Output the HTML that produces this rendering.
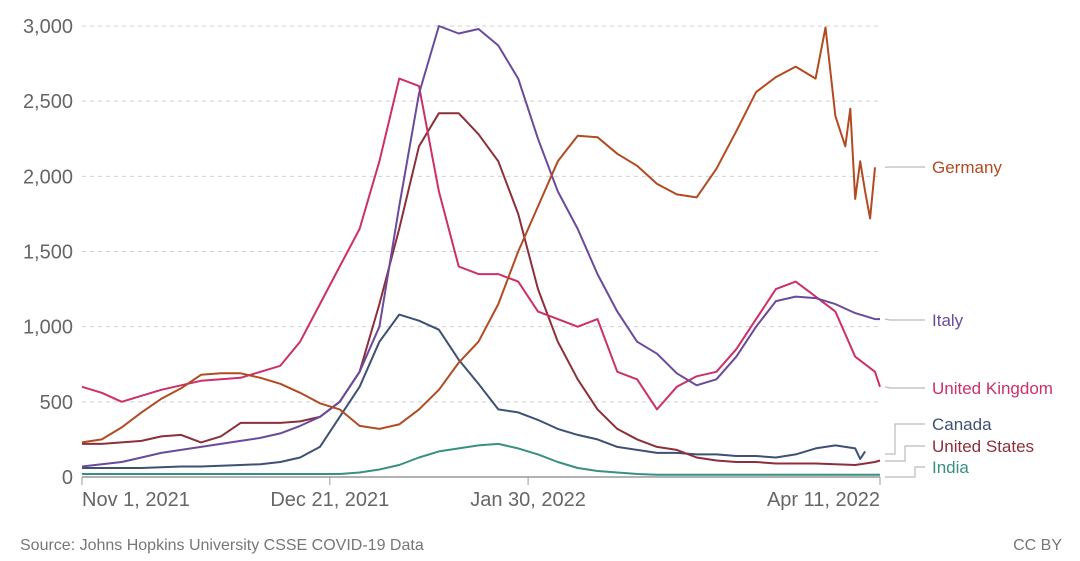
<!DOCTYPE html>
<html><head><meta charset="utf-8"><style>
body{margin:0;background:#fff;}
svg{display:block;font-family:"Liberation Sans",sans-serif;}
</style></head><body>
<svg id="chart" width="1080" height="561"></svg>
<script>
const step4 = Array.from({length:41},(_, i)=>i*4).concat([161]);
const yTicks = [0,500,1000,1500,2000,2500,3000];
const yTickLabels = ["0","500","1,000","1,500","2,000","2,500","3,000"];
const xTickDays = [0,50,90,161];
const xTickLabels = ["Nov 1, 2021","Dec 21, 2021","Jan 30, 2022","Apr 11, 2022"];
const germanyDays = Array.from({length:37},(_, i)=>i*4).concat([148,150,152,154,155,156,157,158,159,160,161]);
const germany = [230,250,330,430,520,590,680,690,690,660,620,560,490,450,340,320,350,450,580,760,900,1150,1500,1800,2100,2270,2260,2150,2070,1950,1880,1860,2050,2300,2560,2660,2730,2650,2990,2400,2200,2450,1850,2100,1900,1720,2060];
const italy = [70,85,100,130,160,180,200,220,240,260,290,340,400,500,700,1000,1800,2550,3000,2950,2980,2870,2650,2250,1900,1650,1350,1100,900,820,690,610,650,800,1000,1170,1200,1190,1150,1090,1050,1050];
const uk = [600,560,500,540,580,610,640,650,660,700,740,900,1150,1400,1650,2100,2650,2600,1900,1400,1350,1350,1300,1100,1050,1000,1050,700,650,450,600,670,700,850,1050,1250,1300,1200,1100,800,700,600];
const us = [220,220,230,240,270,280,230,270,360,360,360,370,400,500,700,1150,1650,2200,2420,2420,2280,2100,1750,1250,900,650,450,320,250,200,180,130,110,100,100,90,90,90,85,80,100,110];
const canadaDays = Array.from({length:40},(_, i)=>i*4).concat([157,158]);
const canada = [60,60,60,60,65,70,70,75,80,85,100,130,200,400,600,900,1080,1040,980,780,620,450,430,380,320,280,250,200,180,160,160,150,150,140,140,130,150,190,210,190,120,170];
const india = [20,20,20,20,20,20,20,20,20,20,20,20,20,20,30,50,80,130,170,190,210,220,190,150,100,60,40,30,20,15,15,15,15,15,15,15,15,15,15,15,15,15];
const seriesNames = ["Germany","Italy","United Kingdom","Canada","United States","India"];

const NS="http://www.w3.org/2000/svg";
const svg=document.getElementById('chart');
const X0=82,X1=880,Y0=477,Y1=26;
const xs=d=>X0+(X1-X0)*d/161;
const ys=v=>Y0-(Y0-Y1)*v/3000;
function mk(tag,attrs,parent){const e=document.createElementNS(NS,tag);for(const k in attrs)e.setAttribute(k,attrs[k]);(parent||svg).appendChild(e);return e;}

yTicks.forEach((t,i)=>{
  if(t>0){const g=mk('line',{x1:X0,x2:X1,y1:ys(t),y2:ys(t),stroke:'#d0d0d0','stroke-dasharray':'4,4','stroke-width':1});
  
  }
  const tx=mk('text',{x:73,y:ys(t)+7,'text-anchor':'end','font-size':20,fill:'#666'});
  tx.textContent=yTickLabels[i];
  
  
});
const ax=mk('line',{x1:X0,x2:X1,y1:Y0,y2:Y0,stroke:'#999','stroke-width':1.5});


xTickDays.forEach((d,i)=>{
  const tk=mk('line',{x1:xs(d),x2:xs(d),y1:Y0,y2:Y0+8,stroke:'#999'});
  
  
  const last=i===xTickDays.length-1, first=i===0;
  const tx=mk('text',{x:xs(d)+(first?0:0),y:506,'text-anchor':last?'end':(first?'start':'middle'),'font-size':20,fill:'#666'});
  tx.textContent=xTickLabels[i];
  
  
});

function line(days,vals,color,name){
  const p=days.map((d,i)=>(i?'L':'M')+xs(d).toFixed(1)+','+ys(vals[i]).toFixed(1)).join('');
  const e=mk('path',{d:p,fill:'none',stroke:color,'stroke-width':2,'stroke-linejoin':'round'});
  
  
}
line(step4,india,'#3a8f84','india-line');
line(canadaDays,canada,'#3e5074','canada-line');
line(step4,us,'#8c2f3b','united-states-line');
line(step4,uk,'#cc2f69','united-kingdom-line');
line(step4,italy,'#6a4a9c','italy-line');
line(germanyDays,germany,'#b24a22','germany-line');

const labels=[
 ["Germany",167,ys(germany[germany.length-1]),'#b24a22',0],
 ["Italy",320,ys(italy[italy.length-1]),'#6a4a9c',0],
 ["United Kingdom",388,ys(uk[uk.length-1]),'#cc2f69',0],
 ["Canada",424,454,'#3e5074',895],
 ["United States",446,461,'#8c2f3b',905],
 ["India",467,477,'#3a8f84',915]
];
labels.forEach(([t,y,yEnd,c,ex])=>{
  let d;
  if(ex) d=`M885,${yEnd}H${ex}V${y}H925`;
  else d=`M885,${yEnd}L890,${y}H925`;
  const l=mk('path',{d:d,fill:'none',stroke:'#bbb','stroke-width':1.2});
  
  
  const tx=mk('text',{x:932,y:y+6,'font-size':17,fill:c});
  tx.textContent=t;
  
  
});
const src=mk('text',{x:20,y:550,'font-size':16,fill:'#777'});
src.textContent='Source: Johns Hopkins University CSSE COVID-19 Data';


const cc=mk('text',{x:1062,y:550,'font-size':16,fill:'#777','text-anchor':'end'});
cc.textContent='CC BY';


</script>
</body></html>
